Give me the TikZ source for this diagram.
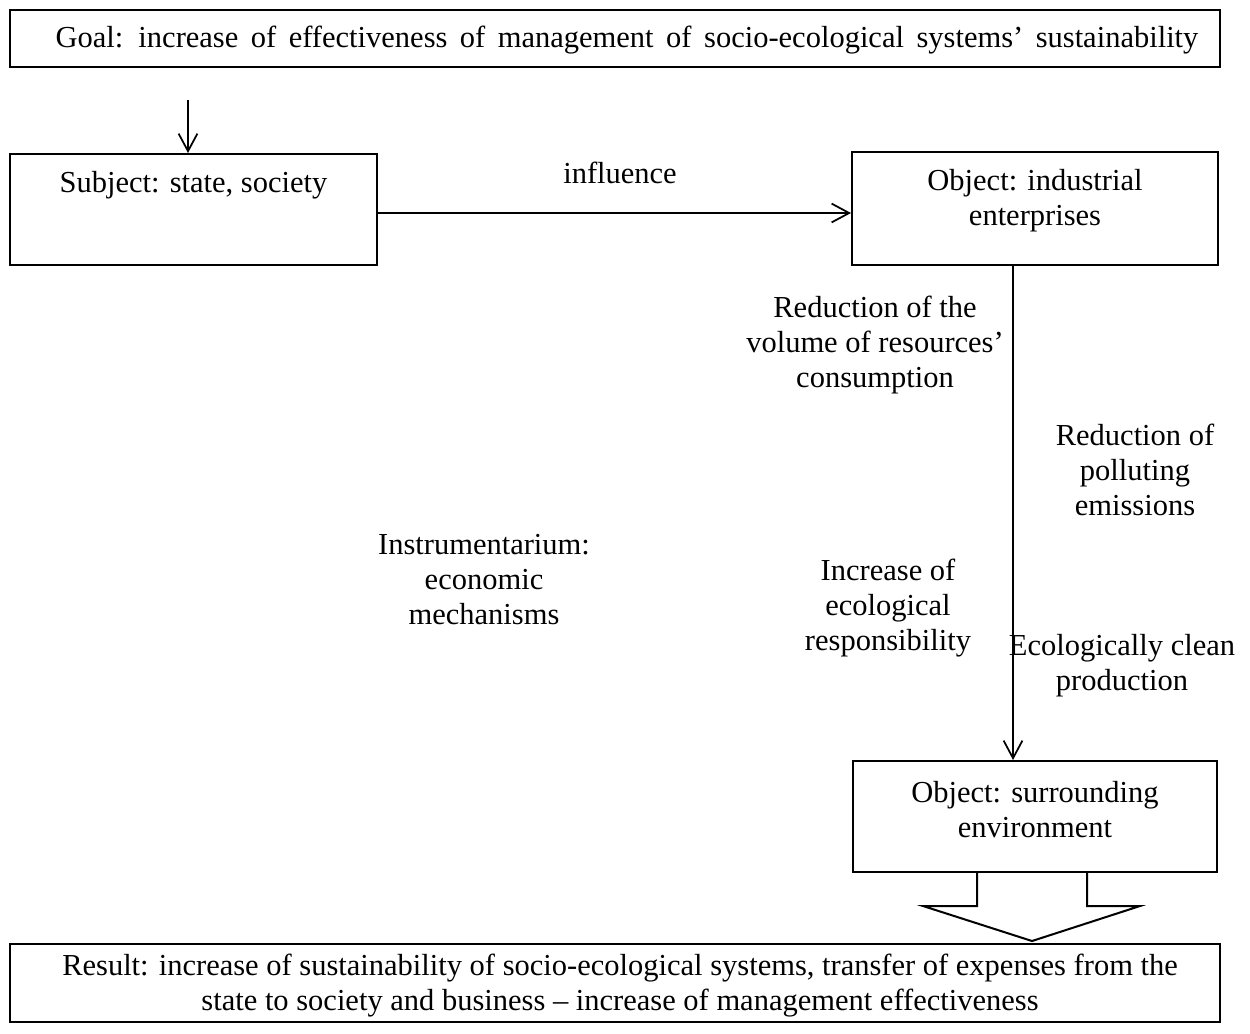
\documentclass[tikz,border=0pt]{standalone}
\usepackage{fontspec}
\setmainfont{Liberation Serif}
\usepackage{tikz}
\usetikzlibrary{arrows.meta}

\begin{document}
\begin{tikzpicture}[x=0.4pt, y=-0.4pt,
    box/.style={draw, line width=0.8pt, inner sep=0pt},
    txt/.style={align=center, inner sep=0pt, font=\fontsize{12.2}{14}\selectfont},
    arr/.style={line width=0.7pt, -{Straight Barb[length=7pt, width=7.5pt]}}]
    \useasboundingbox (0, 0) rectangle (1250, 1033);

    % boxes
    \node[box, minimum width=484pt, minimum height=22.8pt](goal) at (615, 38.5){};
    \node[box, minimum width=146.8pt, minimum height=44.4pt](subj) at (193.5, 209.5){};
    \node[box, minimum width=146.4pt, minimum height=45.2pt](ind) at (1035, 208.5){};
    \node[box, minimum width=145.6pt, minimum height=44.4pt](surr) at (1035, 816.5){};
    \node[box, minimum width=484pt, minimum height=31.2pt](res) at (615, 983){};

    % box texts
    \node[txt](goaltxt) at (627, 40){\spaceskip=5pt Goal: increase of effectiveness of management of socio-ecological systems’ sustainability};
    \node[txt](subjtxt) at (193.5, 185){Subject: state, society};
    \node[txt](indtxt) at (1035, 200.5){Object: industrial\\enterprises};
    \node[txt](surrtxt) at (1035, 810){Object: surrounding\\environment};
    \node[txt](restxt) at (620, 985.5){Result: increase of sustainability of socio-ecological systems, transfer of expenses from the\\state to society and business -- increase of management effectiveness};

    % labels
    \node[txt](infl) at (620, 173){influence};
    \node[txt](redres) at (875, 345){Reduction of the\\volume of resources’\\consumption};
    \node[txt](redemis) at (1135, 470){Reduction of\\polluting\\emissions};
    \node[txt](instr) at (484, 580){Instrumentarium:\\economic\\mechanisms};
    \node[txt](incr) at (888, 608){Increase of\\ecological\\responsibility};
    \node[txt](clean) at (1122, 665.5){Ecologically clean\\production};

    % arrows
    \coordinate (goalarr) at (188, 100);
    \draw[arr] (goalarr) -- (goalarr |- subj.north);
    \draw[arr] ([yshift=-1.4pt]subj.east) -- ([yshift=-1.8pt]ind.west);
    \draw[arr] ([xshift=-8.8pt]ind.south) -- ([xshift=-8.8pt]surr.north);

    % block arrow to result
    \draw[line width=0.8pt] (977, 872) -- (977, 906) -- (923, 906) -- (1032, 941)
        -- (1140, 906) -- (1087, 906) -- (1087, 872);
\end{tikzpicture}
\end{document}
